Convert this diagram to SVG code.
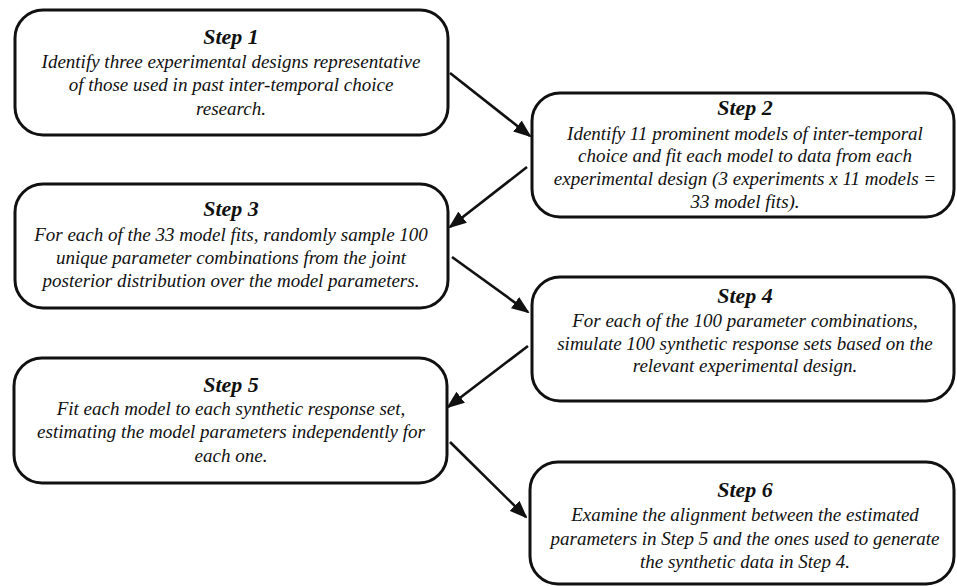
<svg xmlns="http://www.w3.org/2000/svg" width="957" height="586" viewBox="0 0 957 586">
<defs>
<style>
.box{fill:#ffffff;stroke:#111111;stroke-width:3}
.title{font-family:'Liberation Serif','Times New Roman','DejaVu Serif',serif;font-style:italic;font-weight:bold;font-size:22px;fill:#111111;text-anchor:middle}
.body{font-family:'Liberation Serif','Times New Roman','DejaVu Serif',serif;font-style:italic;font-size:19px;fill:#111111;text-anchor:middle}
.conn{stroke:#111111;stroke-width:2.6;fill:none;marker-end:url(#arrow)}
</style>
<marker id="arrow" markerUnits="userSpaceOnUse" markerWidth="18" markerHeight="14" refX="16" refY="7" orient="auto">
<path d="M0,0 L18,7 L0,14 z" fill="#111111"/>
</marker>
</defs>
<rect width="957" height="586" fill="#ffffff"/>
<g id="step1">
<rect class="box" x="15" y="10" width="433" height="125" rx="28"/>
<text class="title" x="231" y="44">Step 1</text>
<text class="body" x="231" y="68">Identify three experimental designs representative</text>
<text class="body" x="231" y="91">of those used in past inter-temporal choice</text>
<text class="body" x="231" y="115">research.</text>
</g>
<g id="step2">
<rect class="box" x="532" y="93" width="422" height="124" rx="28"/>
<text class="title" x="745" y="115">Step 2</text>
<text class="body" x="745" y="140">Identify 11 prominent models of inter-temporal</text>
<text class="body" x="745" y="162">choice and fit each model to data from each</text>
<text class="body" x="745" y="185">experimental design (3 experiments x 11 models =</text>
<text class="body" x="745" y="208">33 model fits).</text>
</g>
<g id="step3">
<rect class="box" x="15" y="184" width="433" height="124" rx="28"/>
<text class="title" x="231" y="216">Step 3</text>
<text class="body" x="231" y="241">For each of the 33 model fits, randomly sample 100</text>
<text class="body" x="231" y="264">unique parameter combinations from the joint</text>
<text class="body" x="231" y="287">posterior distribution over the model parameters.</text>
</g>
<g id="step4">
<rect class="box" x="532" y="277" width="422" height="124" rx="28"/>
<text class="title" x="745" y="303">Step 4</text>
<text class="body" x="745" y="327">For each of the 100 parameter combinations,</text>
<text class="body" x="745" y="350">simulate 100 synthetic response sets based on the</text>
<text class="body" x="745" y="372">relevant experimental design.</text>
</g>
<g id="step5">
<rect class="box" x="14" y="358" width="433" height="125" rx="28"/>
<text class="title" x="231" y="392">Step 5</text>
<text class="body" x="231" y="415">Fit each model to each synthetic response set,</text>
<text class="body" x="231" y="438">estimating the model parameters independently for</text>
<text class="body" x="231" y="462">each one.</text>
</g>
<g id="step6">
<rect class="box" x="530" y="462" width="424" height="122" rx="28"/>
<text class="title" x="745" y="497">Step 6</text>
<text class="body" x="745" y="521">Examine the alignment between the estimated</text>
<text class="body" x="745" y="545">parameters in Step 5 and the ones used to generate</text>
<text class="body" x="745" y="568">the synthetic data in Step 4.</text>
</g>
<g id="connectors">
<line class="conn" x1="450" y1="73" x2="530" y2="136"/>
<line class="conn" x1="527" y1="167" x2="450" y2="227"/>
<line class="conn" x1="452" y1="257" x2="528" y2="312"/>
<line class="conn" x1="528" y1="346" x2="448" y2="407"/>
<line class="conn" x1="450" y1="442" x2="526" y2="517"/>
</g>
</svg>
